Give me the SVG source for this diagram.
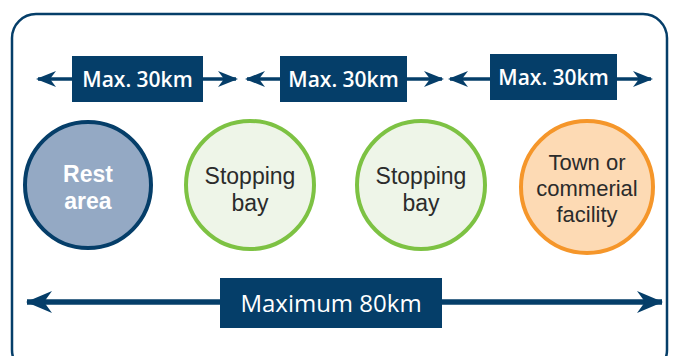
<svg xmlns="http://www.w3.org/2000/svg" width="673" height="356" viewBox="0 0 673 356">
<style>
.navy{fill:#053e69}
.line{stroke:#053e69;fill:none}
.lbl{font-family:"Open Sans","Liberation Sans",sans-serif;fill:#fff;text-anchor:middle}
.small{font-size:21px;font-weight:600}
.big{font-size:24px}
.node{font-family:"Liberation Sans",Arial,sans-serif;text-anchor:middle;fill:#2b2b2b;font-size:23px}
.town{font-size:22px}
.rest{font-family:"Liberation Sans",Arial,sans-serif;text-anchor:middle;fill:#fff;font-size:23px;font-weight:700}
</style>
<defs>
<marker id="ah" viewBox="0 0 20 16" refX="18" refY="8" markerWidth="20" markerHeight="16" markerUnits="userSpaceOnUse" orient="auto-start-reverse">
<path d="M0,0 L20,8 L0,16 L6,8 Z" class="navy"/>
</marker>
<marker id="ahb" viewBox="0 0 26 22" refX="25" refY="11" markerWidth="26" markerHeight="22" markerUnits="userSpaceOnUse" orient="auto-start-reverse">
<path d="M0,0 L26,11 L0,22 L8,11 Z" class="navy"/>
</marker>
</defs>
<rect x="12" y="14" width="655" height="360" rx="24" ry="24" fill="#fff" stroke="#053e69" stroke-width="2.5"/>
<g id="connectors">
<line class="line" x1="38" y1="79" x2="236" y2="79" stroke-width="3.5" marker-start="url(#ah)" marker-end="url(#ah)"/>
<line class="line" x1="247" y1="79" x2="442" y2="79" stroke-width="3.5" marker-start="url(#ah)" marker-end="url(#ah)"/>
<line class="line" x1="450" y1="79" x2="651" y2="79" stroke-width="3.5" marker-start="url(#ah)" marker-end="url(#ah)"/>
<line class="line" x1="27" y1="302" x2="662" y2="302" stroke-width="5.5" marker-start="url(#ahb)" marker-end="url(#ahb)"/>
</g>
<g id="label1">
<rect x="72" y="56" width="131" height="46" class="navy"/>
<text x="137.5" y="87" class="lbl small">Max. 30km</text>
</g>
<g id="label2">
<rect x="280" y="56" width="127" height="46" class="navy"/>
<text x="343.5" y="87" class="lbl small">Max. 30km</text>
</g>
<g id="label3">
<rect x="490" y="54" width="127" height="46" class="navy"/>
<text x="553.5" y="85" class="lbl small">Max. 30km</text>
</g>
<g id="label-total">
<rect x="220" y="278" width="222" height="50" class="navy"/>
<text x="331" y="312" class="lbl big">Maximum 80km</text>
</g>
<g id="rest-area">
<circle cx="88" cy="185" r="63" fill="#94a9c4" stroke="#053e69" stroke-width="4"/>
<text x="88" y="182" class="rest">Rest</text>
<text x="88" y="209" class="rest">area</text>
</g>
<g id="stopping-bay-1">
<circle cx="250" cy="185" r="64" fill="#eef5e8" stroke="#7dc243" stroke-width="4"/>
<text x="250" y="184" class="node">Stopping</text>
<text x="250" y="211" class="node">bay</text>
</g>
<g id="stopping-bay-2">
<circle cx="421" cy="185" r="64" fill="#eef5e8" stroke="#7dc243" stroke-width="4"/>
<text x="421" y="184" class="node">Stopping</text>
<text x="421" y="211" class="node">bay</text>
</g>
<g id="town">
<circle cx="587" cy="187" r="66" fill="#fddab4" stroke="#f5962a" stroke-width="4"/>
<text x="587" y="170" class="node town">Town or</text>
<text x="587" y="196" class="node town">commerial</text>
<text x="587" y="222" class="node town">facility</text>
</g>
</svg>
